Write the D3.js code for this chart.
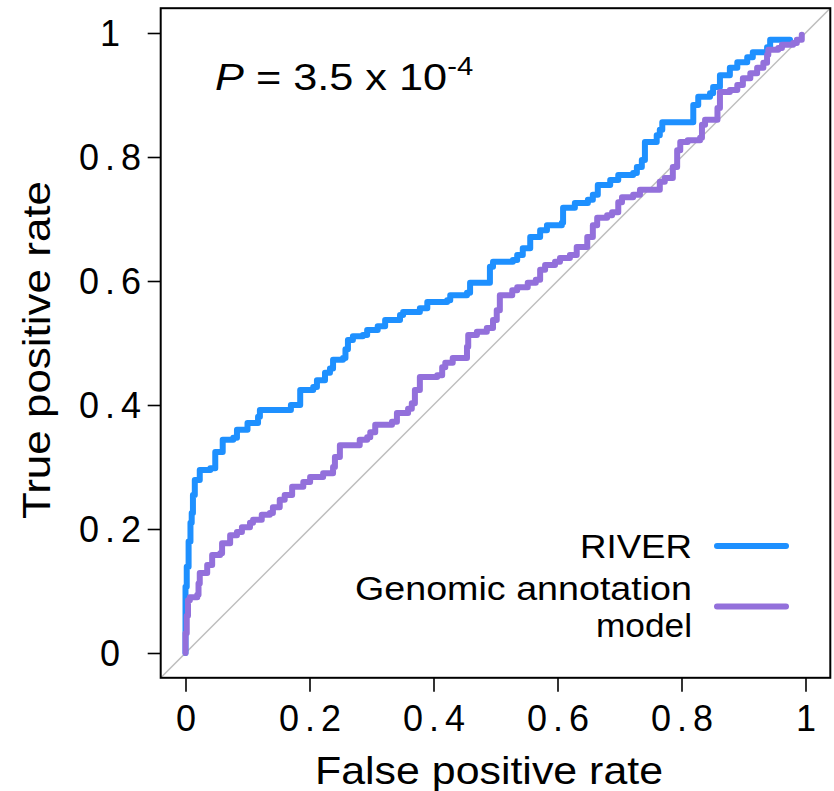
<!DOCTYPE html>
<html>
<head>
<meta charset="utf-8">
<script src="https://cdn.jsdelivr.net/npm/d3@7"></script>
<style>
  html, body { margin: 0; padding: 0; background: #fff; }
  svg { display: block; }
  text { font-family: "Liberation Sans", Arial, sans-serif; fill: #000; }
</style>
</head>
<body>
<svg id="chart" width="834" height="791"></svg>
<script>
// ---- data ----
const tickValues = [0, 0.2, 0.4, 0.6, 0.8, 1];
const tickLabels = ["0", "0.2", "0.4", "0.6", "0.8", "1"];
const seriesNames = ["RIVER", "Genomic annotation model"];
const seriesColors = ["#1E90FF", "#9370DB"];

const riverFPR = [0.000,0.000,0.000,0.002,0.005,0.008,0.010,0.012,0.015,0.023,0.040,0.048,0.060,0.077,0.083,0.100,0.117,0.120,0.164,0.170,0.181,0.185,0.206,0.212,0.225,0.233,0.238,0.254,0.258,0.262,0.270,0.286,0.293,0.310,0.322,0.346,0.351,0.378,0.390,0.422,0.427,0.454,0.459,0.488,0.491,0.496,0.528,0.535,0.544,0.556,0.572,0.583,0.607,0.609,0.628,0.649,0.657,0.665,0.685,0.698,0.722,0.728,0.736,0.741,0.760,0.765,0.769,0.814,0.819,0.827,0.846,0.851,0.862,0.878,0.890,0.906,0.915,0.938,0.943,0.975];
const riverTPR = [0.000,0.050,0.107,0.139,0.180,0.210,0.226,0.255,0.279,0.295,0.298,0.324,0.344,0.347,0.360,0.371,0.381,0.392,0.392,0.400,0.400,0.424,0.429,0.440,0.452,0.459,0.473,0.476,0.490,0.505,0.511,0.513,0.521,0.527,0.537,0.545,0.550,0.556,0.566,0.569,0.577,0.581,0.597,0.597,0.623,0.631,0.634,0.642,0.653,0.671,0.682,0.690,0.694,0.718,0.726,0.731,0.739,0.755,0.763,0.771,0.774,0.784,0.795,0.824,0.835,0.844,0.856,0.856,0.884,0.897,0.903,0.913,0.932,0.944,0.953,0.961,0.969,0.977,0.989,0.989];

const genomicFPR = [0.000,0.000,0.002,0.004,0.007,0.019,0.021,0.023,0.035,0.043,0.056,0.059,0.072,0.083,0.091,0.104,0.109,0.123,0.136,0.141,0.152,0.160,0.172,0.190,0.201,0.222,0.238,0.241,0.249,0.277,0.281,0.293,0.298,0.306,0.333,0.341,0.359,0.365,0.370,0.378,0.406,0.414,0.419,0.431,0.448,0.454,0.456,0.470,0.486,0.496,0.502,0.507,0.527,0.535,0.552,0.565,0.572,0.580,0.596,0.604,0.620,0.631,0.648,0.657,0.664,0.680,0.688,0.698,0.704,0.722,0.733,0.762,0.765,0.773,0.781,0.786,0.793,0.798,0.810,0.830,0.833,0.838,0.857,0.858,0.862,0.878,0.890,0.899,0.911,0.922,0.932,0.938,0.940,0.956,0.962,0.980,0.986,0.994];
const genomicTPR = [0.000,0.032,0.060,0.085,0.090,0.094,0.112,0.129,0.142,0.158,0.161,0.177,0.190,0.195,0.203,0.210,0.215,0.223,0.226,0.235,0.247,0.255,0.268,0.276,0.284,0.290,0.300,0.316,0.335,0.335,0.344,0.348,0.356,0.368,0.373,0.387,0.394,0.403,0.424,0.445,0.448,0.461,0.468,0.476,0.476,0.494,0.513,0.518,0.524,0.537,0.553,0.577,0.585,0.590,0.597,0.602,0.618,0.626,0.631,0.637,0.642,0.655,0.671,0.690,0.702,0.706,0.711,0.727,0.735,0.739,0.747,0.747,0.760,0.766,0.766,0.784,0.811,0.824,0.827,0.831,0.852,0.860,0.860,0.879,0.905,0.908,0.916,0.927,0.935,0.944,0.952,0.965,0.973,0.976,0.981,0.984,0.989,0.997];

// ---- layout ----
const svg = d3.select("#chart");
const x = d3.scaleLinear().domain([-0.04, 1.04]).range([160.7, 830.3]);
const y = d3.scaleLinear().domain([-0.04, 1.04]).range([677.8, 8.2]);
const FONT = '"Liberation Sans", Arial, sans-serif';

svg.append("defs").append("clipPath").attr("id", "plotclip")
  .append("rect").attr("x", x(-0.04)).attr("y", y(1.04))
  .attr("width", x(1.04) - x(-0.04)).attr("height", y(-0.04) - y(1.04));

const plot = svg.append("g").attr("clip-path", "url(#plotclip)");
// diagonal reference line
plot.append("line")
  .attr("x1", x(-0.04)).attr("y1", y(-0.04))
  .attr("x2", x(1.04)).attr("y2", y(1.04))
  .attr("stroke", "#BEBEBE").attr("stroke-width", 1.5);

// ROC curves
const series = [
  { fpr: riverFPR, tpr: riverTPR },
  { fpr: genomicFPR, tpr: genomicTPR }
];
const line = d3.line()
  .x(d => x(d[0])).y(d => y(d[1]))
  .curve(d3.curveStepAfter);
series.forEach((s, i) => {
  const pts = s.fpr.map((f, j) => [f, s.tpr[j]]);
  plot.append("path")
    .attr("d", line(pts))
    .attr("fill", "none")
    .attr("stroke", seriesColors[i])
    .attr("stroke-width", 6)
    .attr("stroke-linejoin", "round")
    .attr("stroke-linecap", "round");
});

// box
svg.append("rect")
  .attr("x", x(-0.04)).attr("y", y(1.04))
  .attr("width", x(1.04) - x(-0.04)).attr("height", y(-0.04) - y(1.04))
  .attr("fill", "none").attr("stroke", "#000").attr("stroke-width", 2);

// axes
const fmt = v => tickLabels[tickValues.indexOf(v)];
const xAxis = svg.append("g")
  .attr("transform", `translate(0,${y(-0.04)})`)
  .call(d3.axisBottom(x).tickValues(tickValues).tickFormat(fmt).tickSize(14));
const yAxis = svg.append("g")
  .attr("transform", `translate(${x(-0.04)},0)`)
  .call(d3.axisLeft(y).tickValues(tickValues).tickFormat(fmt).tickSize(13));

[xAxis, yAxis].forEach(g => {
  g.select(".domain").remove();
  g.selectAll(".tick line").attr("stroke", "#000").attr("stroke-width", 1.6);
  g.selectAll(".tick text")
    .attr("font-family", FONT).attr("font-size", 36).attr("fill", "#000")
    .each(function(d) {
      const t = d3.select(this);
      if (fmt(d).length > 1) t.attr("textLength", 62).attr("lengthAdjust", "spacing");
    });
});
xAxis.selectAll(".tick text").attr("y", 731 - y(-0.04)).attr("dy", 0).attr("text-anchor", "middle");
yAxis.selectAll(".tick text").attr("x", 110 - x(-0.04)).attr("dy", "0.35em").attr("text-anchor", "middle");

// axis titles
svg.append("text")
  .attr("x", 315).attr("y", 784)
  .attr("font-size", 39)
  .attr("textLength", 348).attr("lengthAdjust", "spacingAndGlyphs")
  .text("False positive rate");

svg.append("text")
  .attr("transform", "translate(50,519) rotate(-90)")
  .attr("x", 0).attr("y", 0)
  .attr("font-size", 39)
  .attr("textLength", 338).attr("lengthAdjust", "spacingAndGlyphs")
  .text("True positive rate");

// P value annotation
const ptext = svg.append("text")
  .attr("transform", "translate(215,90) scale(1.17,1)")
  .attr("font-size", 37);
ptext.append("tspan").attr("font-style", "italic").text("P");
ptext.append("tspan").text(" = 3.5 x 10");
ptext.append("tspan").attr("font-size", 25).attr("dy", -15).text("-4");

// legend
const legendRight = 692;
const legendLines = [
  { text: "RIVER", y: 558, len: 112 },
  { text: "Genomic  annotation", y: 600, len: 337 },
  { text: "model", y: 637, len: 96 }
];
legendLines.forEach(l => {
  svg.append("text")
    .attr("x", legendRight - l.len).attr("y", l.y)
    .attr("font-size", 33)
    .attr("textLength", l.len).attr("lengthAdjust", "spacingAndGlyphs")
    .text(l.text);
});
const legendY = [546, 606.5];
legendY.forEach((ly, i) => {
  svg.append("line")
    .attr("x1", 717).attr("x2", 786).attr("y1", ly).attr("y2", ly)
    .attr("stroke", seriesColors[i]).attr("stroke-width", 6)
    .attr("stroke-linecap", "round");
});
</script>
</body>
</html>
